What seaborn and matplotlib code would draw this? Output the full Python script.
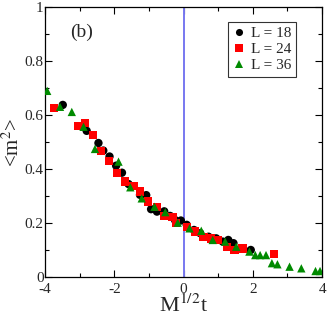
import numpy as np
import pandas as pd
import matplotlib
matplotlib.use('Agg')
import matplotlib.pyplot as plt
import seaborn as sns

# data
x18 = [-3.49, -2.80, -2.46, -2.32, -2.14, -1.95, -1.78, -1.59, -1.26, -1.08, -0.94, -0.77,
       -0.56, -0.39, -0.25, -0.08, 0.09, 0.30, 0.48, 0.72, 0.94, 1.13, 1.29, 1.44, 1.94]
y18 = [0.637, 0.541, 0.496, 0.468, 0.446, 0.412, 0.386, 0.344, 0.304, 0.303, 0.251, 0.242,
       0.243, 0.226, 0.211, 0.209, 0.193, 0.174, 0.162, 0.149, 0.143, 0.131, 0.137, 0.125, 0.100]

x24 = [-3.74, -3.06, -2.84, -2.62, -2.38, -2.15, -1.93, -1.69, -1.45, -1.26, -1.02, -0.77,
       -0.56, -0.32, -0.22, 0.09, 0.33, 0.57, 0.79, 1.00, 1.25, 1.47, 1.70, 2.61]
y24 = [0.626, 0.560, 0.570, 0.526, 0.467, 0.430, 0.384, 0.353, 0.337, 0.316, 0.279, 0.258,
       0.226, 0.221, 0.199, 0.184, 0.168, 0.147, 0.143, 0.137, 0.112, 0.100, 0.106, 0.084]

x36 = [-3.94, -3.57, -3.23, -2.89, -2.56, -1.88, -1.54, -1.21, -0.84, -0.53, -0.17, 0.17,
       0.51, 0.84, 1.20, 1.52, 1.90, 2.07, 2.21, 2.38, 2.55, 2.71, 3.06, 3.40, 3.81, 3.94]
y36 = [0.689, 0.630, 0.611, 0.556, 0.474, 0.427, 0.332, 0.291, 0.260, 0.240, 0.201, 0.180,
       0.171, 0.137, 0.131, 0.112, 0.094, 0.081, 0.081, 0.081, 0.051, 0.047, 0.038, 0.032, 0.022, 0.022]

labels = ['L = 18', 'L = 24', 'L = 36']

df = pd.concat([
    pd.DataFrame({'x': x18, 'y': y18, 'L': labels[0]}),
    pd.DataFrame({'x': x24, 'y': y24, 'L': labels[1]}),
    pd.DataFrame({'x': x36, 'y': y36, 'L': labels[2]}),
], ignore_index=True)

sns.set_theme(style='ticks')
plt.rcParams['font.family'] = ['Liberation Serif', 'DejaVu Serif']
plt.rcParams['mathtext.fontset'] = 'stix'
plt.rcParams['axes.unicode_minus'] = False

fig = plt.figure(figsize=(3.27, 3.27), dpi=100)
ax = fig.add_axes([0.138, 0.153, 0.847, 0.826])

ax.axvline(0, color='#7878f0', lw=1.4, zorder=1)

sns.scatterplot(data=df, x='x', y='y', hue='L', style='L',
                palette={labels[0]: 'black', labels[1]: '#ff0000', labels[2]: '#008a00'},
                markers={labels[0]: 'o', labels[1]: 's', labels[2]: '^'},
                s=36, edgecolor='none', linewidth=0, ax=ax, zorder=3)

ax.set_xlim(-4, 4)
ax.set_ylim(0, 1)
ax.set_xticks([-4, -2, 0, 2, 4])
ax.set_xticks([-3, -1, 1, 3], minor=True)
ax.set_yticks([0, 0.2, 0.4, 0.6, 0.8, 1])
ax.set_yticklabels(['0', '0.2', '0.4', '0.6', '0.8', '1'])
ax.set_yticks([0.1, 0.3, 0.5, 0.7, 0.9], minor=True)
ax.tick_params(which='both', direction='in', top=True, right=True, labelsize=11,
               width=0.8, color='black')
ax.tick_params(axis='y', pad=1)
ax.tick_params(axis='x', pad=4)
ax.tick_params(which='major', length=5)
ax.tick_params(which='minor', length=3)
for sp in ax.spines.values():
    sp.set_color('black')
    sp.set_linewidth(0.9)

ax.set_xlabel('M$^{1/2}$t', fontsize=16, labelpad=-1)
ax.set_ylabel('<m$^2$>', fontsize=15, labelpad=1)
ax.text(-2.95, 0.905, '(b)', fontsize=14, ha='center', va='center')

leg = ax.legend(loc='upper right', bbox_to_anchor=(0.905, 0.945), fontsize=11,
                frameon=True, fancybox=False, edgecolor='black', handletextpad=0.4,
                borderpad=0.3, labelspacing=0.15, handlelength=0.8, markerscale=0.85,
                borderaxespad=0)
leg.get_frame().set_linewidth(0.8)

fig.savefig('out.png', dpi=100)
